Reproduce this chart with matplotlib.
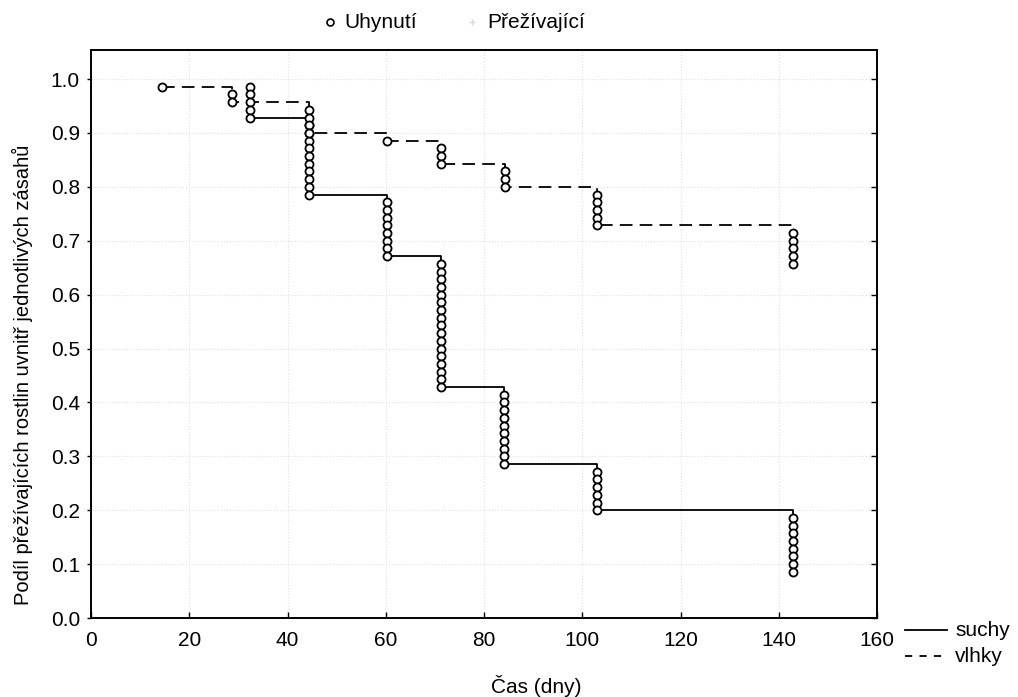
import numpy as np
import matplotlib
matplotlib.use("Agg")
import matplotlib.pyplot as plt
from matplotlib.lines import Line2D

plt.rcParams['font.family'] = ['Liberation Sans', 'DejaVu Sans']

# ---- data ----
n_start = 70  # plants per treatment

suchy_times = [32.3, 44.4, 60.2, 71.3, 84.1, 102.9, 142.9]
suchy_deaths = [5, 10, 8, 17, 10, 6, 8]

vlhky_times = [14.5, 28.7, 44.4, 60.2, 71.3, 84.2, 103.0, 142.9]
vlhky_deaths = [1, 2, 4, 1, 3, 3, 5, 5]

x_ticks = [0, 20, 40, 60, 80, 100, 120, 140, 160]
y_ticks = [0.0, 0.1, 0.2, 0.3, 0.4, 0.5, 0.6, 0.7, 0.8, 0.9, 1.0]

xlabel = "Čas (dny)"
ylabel = "Podíl přežívajících rostlin uvnitř jednotlivých zásahů"
legend_top = ["Uhynutí", "Přežívající"]
legend_groups = ["suchy", "vlhky"]


def km_path(times, deaths, n0):
    """Product-limit estimate; returns step path and circle positions."""
    at_risk = n0
    s_prev = 1.0
    px, py, cx, cy = [], [], [], []
    first = True
    for t, d in zip(times, deaths):
        levels = [s_prev * (1 - k / at_risk) for k in range(1, d + 1)]
        cx += [t] * d
        cy += levels
        if first:
            px.append(t); py.append(levels[0])
            first = False
        else:
            px.append(t); py.append(s_prev)
        px.append(t); py.append(levels[-1])
        s_prev = levels[-1]
        at_risk -= d
    return px, py, cx, cy


FS = 15
fig = plt.figure(figsize=(10.18, 6.97), dpi=100)
ax = fig.add_axes([0.0894, 0.1133, 0.7721, 0.815])

for times, deaths, ls in [(suchy_times, suchy_deaths, '-'),
                          (vlhky_times, vlhky_deaths, (0, (7, 4)))]:
    px, py, cx, cy = km_path(times, deaths, n_start)
    ax.plot(px, py, color='black', lw=1.3, linestyle=ls, zorder=2)
    ax.plot(cx, cy, linestyle='none', marker='o', ms=5.8, mfc='white',
            mec='black', mew=1.3, zorder=3)

ax.set_xlim(0, 160)
ax.set_ylim(0, 1.054)
ax.set_xticks(x_ticks)
ax.set_yticks(y_ticks)
ax.set_xticklabels([str(v) for v in x_ticks])
ax.set_yticklabels([f"{v:.1f}" for v in y_ticks])
ax.tick_params(axis='x', direction='in', length=4, width=1, labelsize=FS, pad=9)
ax.tick_params(axis='y', direction='out', length=3, width=1, labelsize=FS, pad=5)
ax.grid(True, color='#e2e2e2', linestyle=':', linewidth=0.8, zorder=0)
for sp in ax.spines.values():
    sp.set_linewidth(1.4)

ax2 = ax.twinx()
ax2.set_ylim(ax.get_ylim())
ax2.set_yticks(y_ticks)
ax2.set_yticklabels([])
ax2.tick_params(axis='y', direction='in', length=4, width=1)
for sp in ax2.spines.values():
    sp.set_visible(False)

ax.set_xlabel(xlabel, fontsize=FS)
ax.set_ylabel(ylabel, fontsize=14.5)
ax.xaxis.set_label_coords(0.567, -0.100)
ax.yaxis.set_label_coords(-0.074, 0.428)

# top legend
W, H = 1018, 697
def fx(x): return x / W
def fy(y): return 1 - y / H

fig.add_artist(Line2D([fx(330)], [fy(22)], transform=fig.transFigure, marker='o',
                      ms=5, mfc='white', mec='black', mew=1.2, linestyle='none'))
fig.text(fx(344), fy(22), legend_top[0], fontsize=FS, va='center', ha='left')
fig.add_artist(Line2D([fx(472)], [fy(22)], transform=fig.transFigure, marker='+',
                      ms=5, color='#d8d8d8', mew=1.0, linestyle='none'))
fig.text(fx(487), fy(22), legend_top[1], fontsize=FS, va='center', ha='left')

# bottom-right legend
fig.add_artist(Line2D([fx(905), fx(947)], [fy(630), fy(630)], transform=fig.transFigure,
                      color='black', lw=1.3))
fig.text(fx(955), fy(630), legend_groups[0], fontsize=FS, va='center', ha='left')
fig.add_artist(Line2D([fx(905), fx(947)], [fy(656), fy(656)], transform=fig.transFigure,
                      color='black', lw=1.3, linestyle=(0, (4, 4))))
fig.text(fx(955), fy(656), legend_groups[1], fontsize=FS, va='center', ha='left')

fig.savefig("out.png", dpi=100)
